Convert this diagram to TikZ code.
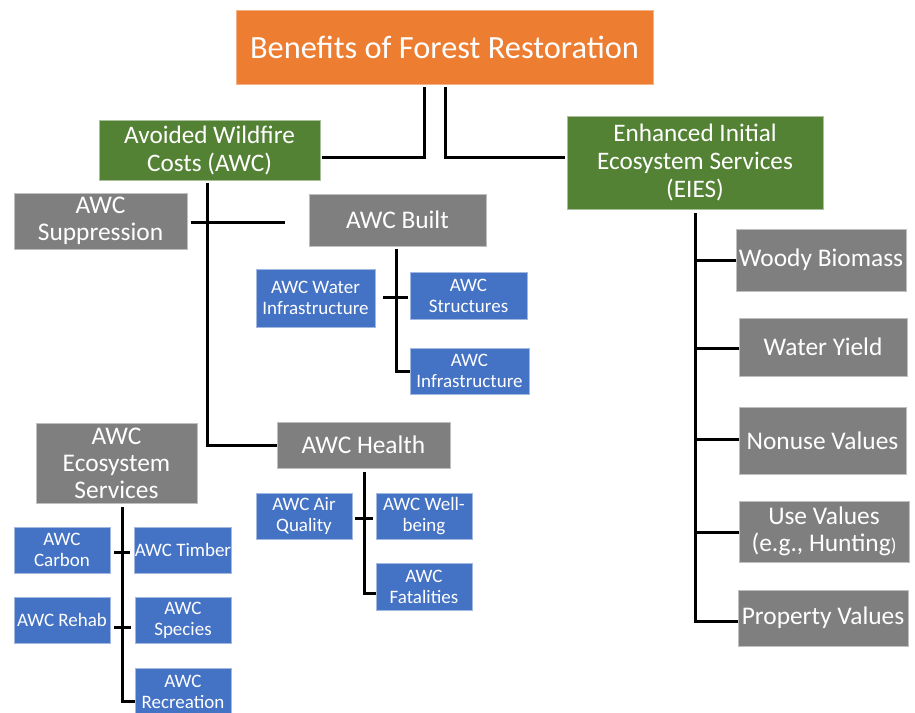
\documentclass[tikz,border=0pt]{standalone}
\usepackage{fontspec}
\setmainfont{Carlito}
\usetikzlibrary{calc}
\definecolor{orangeC}{HTML}{ED7D31}
\definecolor{greenC}{HTML}{548235}
\definecolor{grayC}{HTML}{7F7F7F}
\definecolor{blueC}{HTML}{4472C4}
\begin{document}
\begin{tikzpicture}[x=1pt,y=-1pt,
  box/.style={rectangle, inner sep=0pt, text=white, align=center, line width=0.8pt},
  topbox/.style={box, fill=orangeC, draw=orangeC!60!white, font=\fontsize{32.4}{36}\selectfont},
  greenbox/.style={box, fill=greenC, draw=greenC!50!white, font=\fontsize{25.2}{28}\selectfont},
  graybox/.style={box, fill=grayC, draw=grayC!50!white, font=\fontsize{25.4}{27}\selectfont},
  bluebox/.style={box, fill=blueC, draw=blueC!50!white, font=\fontsize{19}{21}\selectfont},
  link/.style={line width=3pt, black}]
\useasboundingbox (0,0) rectangle (915,712);
\fill[white] (0,0) rectangle (915,712);

% nodes
\node[topbox, minimum width=417pt, minimum height=74pt] (top) at (444.5,47) {Benefits of Forest Restoration};
\node[greenbox, minimum width=221pt, minimum height=60pt] (awc) at (209.5,150) {Avoided Wildfire\\Costs (AWC)};
\node[greenbox, minimum width=256pt, minimum height=93pt] (eies) at (695,162.5) {Enhanced Initial\\Ecosystem Services\\(EIES)};

\node[graybox, minimum width=173pt, minimum height=56pt] (supp) at (100.5,221) {AWC\\Suppression};
\node[graybox, minimum width=177pt, minimum height=52pt] (built) at (397.5,220) {AWC Built};
\node[bluebox, minimum width=119pt, minimum height=58pt] (water) at (315.5,298) {AWC Water\\Infrastructure};
\node[bluebox, minimum width=117pt, minimum height=47pt] (struct) at (468.5,295.5) {AWC\\Structures};
\node[bluebox, minimum width=119pt, minimum height=46pt] (infra) at (469.5,371) {AWC\\Infrastructure};

\node[graybox, minimum width=173pt, minimum height=46pt] (health) at (363.5,445) {AWC Health};
\node[bluebox, minimum width=96pt, minimum height=46pt] (airq) at (304,516) {AWC Air\\Quality};
\node[bluebox, minimum width=96pt, minimum height=46pt] (well) at (424,516) {AWC Well-\\being};
\node[bluebox, minimum width=96pt, minimum height=47pt] (fatal) at (424,586.5) {AWC\\Fatalities};

\node[graybox, minimum width=161pt, minimum height=80pt] (ecos) at (116.5,463) {AWC\\Ecosystem\\Services};
\node[bluebox, minimum width=96pt, minimum height=46pt] (carbon) at (62,550) {AWC\\Carbon};
\node[bluebox, minimum width=96pt, minimum height=46pt] (timber) at (183,550) {AWC Timber};
\node[bluebox, minimum width=96pt, minimum height=46pt] (rehab) at (62,620) {AWC Rehab};
\node[bluebox, minimum width=96pt, minimum height=46pt] (species) at (183,620) {AWC\\Species};
\node[bluebox, minimum width=96pt, minimum height=47pt] (recr) at (183,691.5) {AWC\\Recreation};

\node[graybox, minimum width=170pt, minimum height=62pt] (woody) at (821,260) {Woody Biomass};
\node[graybox, minimum width=168pt, minimum height=58pt] (wyield) at (823,347) {Water Yield};
\node[graybox, minimum width=167pt, minimum height=67pt] (nonuse) at (822.5,440.5) {Nonuse Values};
\node[graybox, minimum width=170pt, minimum height=61pt] (use) at (824,531.5) {Use Values\\(e.g., Hunting{\fontsize{18.5}{20}\selectfont)}};
\node[graybox, minimum width=170pt, minimum height=56pt] (prop) at (823,618) {Property Values};

% connectors
\draw[link] ($(top.south)+(-20.5,3)$) |- ($(awc.east)+(2,7)$);
\draw[link] ($(top.south)+(0.5,3)$) |- ($(eies.west)+(-2,-5.5)$);

\draw[link] ($(awc.south)+(-2.5,3)$) |- (health.west);
\draw[link] ($(supp.east)+(4,1)$) -- ($(built.west)+(-24,2)$);

\draw[link] ($(built.south)+(-1.5,3)$) |- (infra.west);
\draw[link] ($(water.east)+(8,-1)$) -- ($(struct.west)+(-2,1.5)$);

\draw[link] ($(health.south)+(0.5,4)$) |- ($(fatal.west)+(0,6.5)$);
\draw[link] ($(airq.east)+(3,2)$) -- ($(well.west)+(-3,2)$);

\draw[link] ($(ecos.south)+(5.5,4)$) |- ($(recr.west)+(0,9.5)$);
\draw[link] ($(carbon.east)+(4,2)$) -- ($(timber.west)+(-4,2)$);
\draw[link] ($(rehab.east)+(4,7)$) -- ($(species.west)+(-4,7)$);

\draw[link] ($(eies.south)+(0,4)$) |- ($(prop.west)+(0,3)$);
\draw[link] (woody.west) -- (woody.west -| eies.south);
\draw[link] ($(wyield.west)+(0,1)$) -- ($(wyield.west -| eies.south)+(0,1)$);
\draw[link] ($(nonuse.west)+(0,-1.5)$) -- ($(nonuse.west -| eies.south)+(0,-1.5)$);
\draw[link] ($(use.west)+(0,0.5)$) -- ($(use.west -| eies.south)+(0,0.5)$);
\end{tikzpicture}
\end{document}
